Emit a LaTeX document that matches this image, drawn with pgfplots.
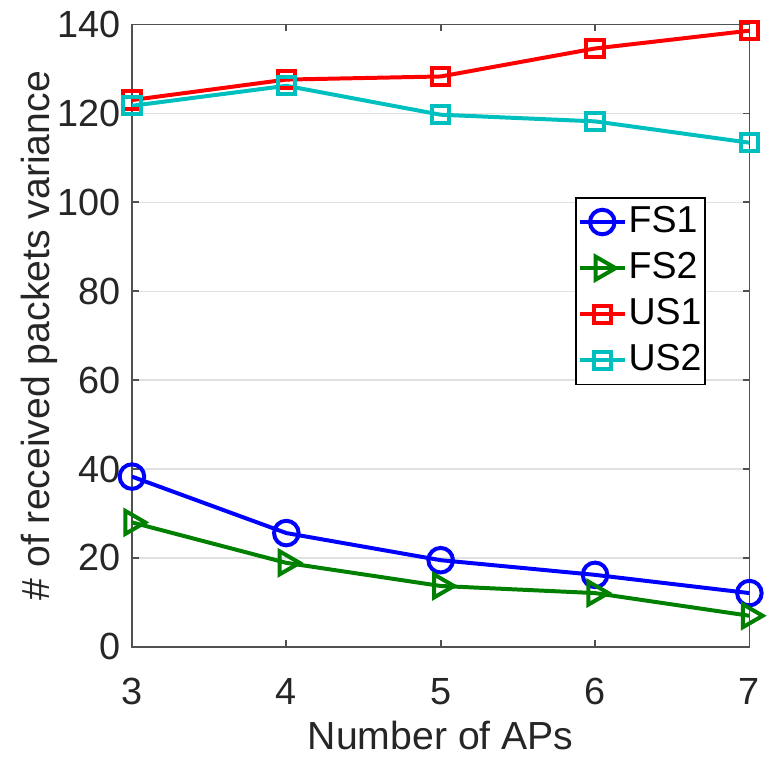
\documentclass[border=0pt]{standalone}
\usepackage{pgfplots}
\pgfplotsset{compat=1.18}
\usepackage{fontspec}
\setmainfont{Liberation Sans}
\definecolor{mgreen}{RGB}{0,128,0}
\definecolor{mcyan}{RGB}{0,191,191}
\definecolor{axgray}{RGB}{38,38,38}
\begin{document}
\begin{tikzpicture}
\begin{axis}[
    scale only axis,
    width=186pt, height=187.5pt,
    xmin=3, xmax=7, ymin=0, ymax=140,
    xtick={3,4,5,6,7},
    ytick={0,20,...,140},
    ymajorgrids,
    grid style={line width=0.4pt, draw=black!12},
    axis line style={draw=axgray!80, line width=0.5pt},
    tick style={draw=axgray!80, line width=0.5pt},
    tick align=inside,
    major tick length=2pt,
    tick label style={font=\fontsize{11.4}{13}\selectfont, text=axgray},
    xticklabel style={yshift=-6pt},
    label style={font=\fontsize{11.8}{14}\selectfont, text=axgray},
    /pgf/number format/assume math mode=true,
    xlabel={Number of APs},
    ylabel={\# of received packets variance},
    xlabel style={yshift=2pt},
    ylabel style={yshift=-7pt},
    legend style={at={(0.929,0.722)}, anchor=north east, draw=black, line width=0.4pt,
        font=\fontsize{11.3}{13}\selectfont, inner sep=0.5pt, row sep=0.5pt,
        legend cell align=left, nodes={inner xsep=0.5pt}},
    legend image code/.code={
        \draw[mark repeat=2, mark phase=2, #1]
            plot coordinates {(0cm,0cm) (0.24cm,0cm) (0.48cm,0cm)};},
    legend image post style={line width=1.2pt},
    every axis plot/.append style={line width=1.2pt, mark options={solid, line width=1.2pt}},
]
\addplot[color=blue, mark=o, mark size=3.7pt] coordinates {
    (3,38.3) (4,25.6) (5,19.5) (6,16.2) (7,12.1)};
\addlegendentry{FS1}
\addplot[color=mgreen, mark=triangle, mark size=4pt, mark options={rotate=-90}] coordinates {
    (3,28.0) (4,18.9) (5,13.7) (6,12.1) (7,7.0)};
\addlegendentry{FS2}
\addplot[color=red, mark=square, mark size=2.6pt] coordinates {
    (3,123.0) (4,127.6) (5,128.3) (6,134.6) (7,138.6)};
\addlegendentry{US1}
\addplot[color=mcyan, mark=square, mark size=2.6pt] coordinates {
    (3,121.7) (4,126.2) (5,119.7) (6,118.2) (7,113.4)};
\addlegendentry{US2}
\end{axis}
% a little white space at the left, as in the original
\path (current bounding box.south west) ++(-3pt,0pt);
\end{tikzpicture}
\end{document}
